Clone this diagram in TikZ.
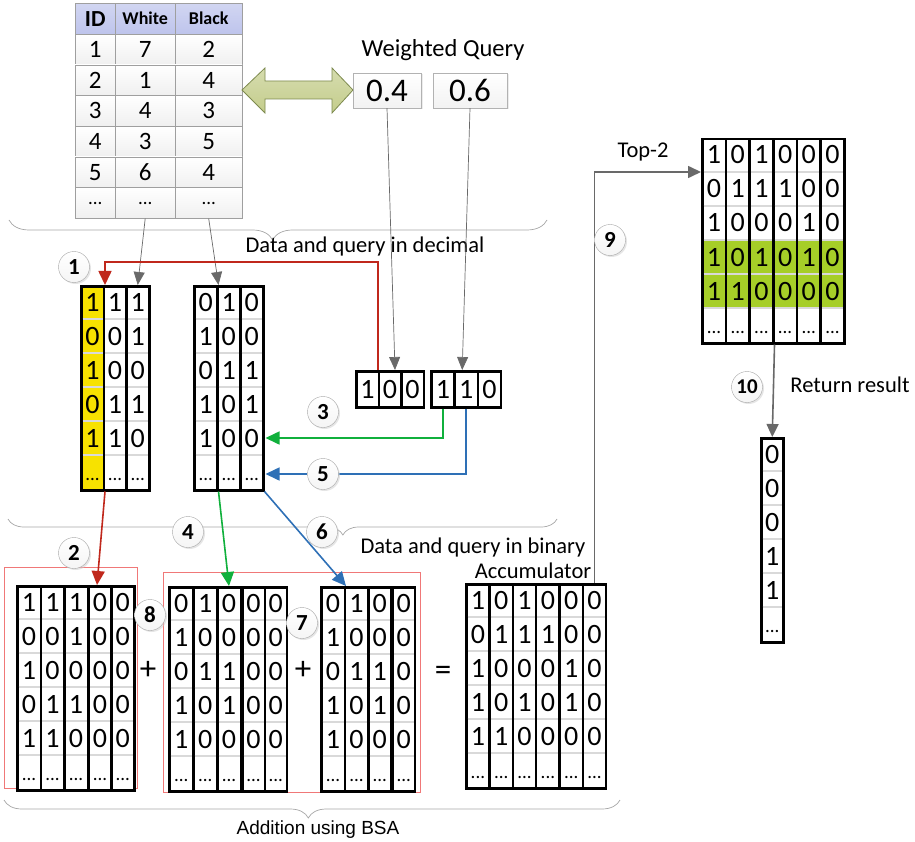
\documentclass[tikz,border=0pt]{standalone}
\usepackage{fontspec}
\setmainfont{Carlito}
\newfontfamily\arialfont{Liberation Sans}
\usetikzlibrary{arrows.meta,calc,shadows,decorations.pathreplacing}

\definecolor{redln}{RGB}{192,40,28}
\definecolor{greenln}{RGB}{16,176,60}
\definecolor{blueln}{RGB}{46,112,182}
\definecolor{grayln}{RGB}{105,105,105}
\definecolor{hlyellow}{RGB}{247,226,0}
\definecolor{hlgreen}{RGB}{166,206,40}
\definecolor{headblue}{RGB}{190,196,236}
\definecolor{olivefill}{RGB}{196,205,140}
\definecolor{oliveline}{RGB}{125,138,78}
\definecolor{sumred}{RGB}{240,120,120}

% one bit column: [fill] name, x, y (top left), width, five values
\newcommand{\bitcol}[6][fill=white]{%
  \node[bitbox,#1,minimum width=#5pt] (#2) at ({#3},{#4}) {};
  \edef\collist{#6}%
  \foreach \v [count=\r] in \collist {
    \draw[rowsep] ($(#2.north west)+(2.5,\r*34)$) -- ($(#2.north east)+(-2.5,\r*34)$);
    \node[bitdigit] (#2-\r) at ($(#2.north)+(0,\r*34-8)$) {\v};
  }
  \node[bitdots] (#2-6) at ($(#2.north)+(0,195)$) {...};
}

\begin{document}
\begin{tikzpicture}[x=1pt,y=-1pt,
  bitbox/.style={draw=black, line width=2.5pt, minimum height=204pt, inner sep=0pt, anchor=north west},
  qbox/.style={bitbox, fill=white, minimum height=36pt, font=\fontsize{28}{28}\selectfont},
  rowsep/.style={draw=gray!30, line width=2pt},
  bitdigit/.style={anchor=base, inner sep=0pt, font=\fontsize{28}{28}\selectfont},
  bitdots/.style={anchor=base, inner sep=0pt, font=\fontsize{19}{19}\selectfont},
  tcell/.style={draw=gray!75, top color=white, bottom color=gray!12, minimum height=30.7pt,
    inner sep=0pt, anchor=north west, font=\fontsize{25}{25}\selectfont},
  thead/.style={tcell, top color=headblue!70, bottom color=headblue, minimum height=31pt},
  wbox/.style={draw=gray!60, top color=white, bottom color=gray!10, minimum height=35pt,
    inner sep=0pt, font=\fontsize{33}{33}\selectfont,
    drop shadow={shadow xshift=1.5pt, shadow yshift=-1.5pt, fill=black!15}},
  stepnum/.style={circle, draw=gray!70, top color=white, bottom color=gray!8, minimum size=31pt,
    inner sep=0pt, font=\bfseries\fontsize{23}{23}\selectfont,
    drop shadow={shadow xshift=1.5pt, shadow yshift=-1.5pt, fill=black!20}},
  lbl/.style={inner sep=0pt, font=\fontsize{22.5}{22.5}\selectfont},
  thinarrow/.style={draw=grayln, line width=0.7pt, -{Triangle[length=13pt,width=11pt]}},
  grayarrow/.style={draw=grayln, line width=1.6pt, -{Triangle[length=13pt,width=12pt]}},
  redarrow/.style={draw=redln, line width=1.6pt, -{Triangle[length=14pt,width=13pt]}},
  greenarrow/.style={draw=greenln, line width=1.6pt, -{Triangle[length=14pt,width=13pt]}},
  bluearrow/.style={draw=blueln, line width=1.6pt, -{Triangle[length=14pt,width=13pt]}},
  brc/.style={draw=gray!70, line width=0.7pt, decorate},
  sumbox/.style={draw=sumred, line width=0.8pt}]

\useasboundingbox (0,0) rectangle (915,842);

% Table in decimal
\node[thead, minimum width=40pt] (t-0-1) at (75,3) {\bfseries\fontsize{23}{23}\selectfont ID};
\node[thead, minimum width=60pt] (t-0-2) at (115,3) {\bfseries\fontsize{18}{18}\selectfont White};
\node[thead, minimum width=67pt] (t-0-3) at (175,3) {\bfseries\fontsize{18}{18}\selectfont Black};
\foreach \r/\a/\b/\c in {1/1/7/2, 2/2/1/4, 3/3/4/3, 4/4/3/5, 5/5/6/4} {
  \node[tcell, minimum width=40pt] (t-\r-1) at (75,{34+(\r-1)*30.7}) {\a};
  \node[tcell, minimum width=60pt] (t-\r-2) at (115,{34+(\r-1)*30.7}) {\b};
  \node[tcell, minimum width=67pt] (t-\r-3) at (175,{34+(\r-1)*30.7}) {\c};
}
\node[tcell, minimum width=40pt, font=\fontsize{19}{19}\selectfont] (t-6-1) at (75,187.5) {...};
\node[tcell, minimum width=60pt, font=\fontsize{19}{19}\selectfont] (t-6-2) at (115,187.5) {...};
\node[tcell, minimum width=67pt, font=\fontsize{19}{19}\selectfont] (t-6-3) at (175,187.5) {...};

% Link between table and query
\draw[draw=oliveline, top color=olivefill!70, bottom color=olivefill, line width=0.8pt]
  (242,90) -- (265,68) -- (265,81) -- (332,81) -- (332,68) -- (353,90)
  -- (332,113) -- (332,99) -- (265,99) -- (265,113) -- cycle;

% Weighted query
\node[inner sep=0pt, font=\fontsize{24.5}{24.5}\selectfont] (wq) at (443,50) {Weighted Query};
\node[wbox, minimum width=68pt] (w1) at (387,90.5) {0.4};
\node[wbox, minimum width=74pt] (w2) at (470,90.5) {0.6};

% Data and query in binary
\bitcol[fill=hlyellow]{wa1}{80}{285}{22.5}{1,0,1,0,1}
\bitcol{wa2}{102.5}{285}{22.5}{1,0,0,1,1}
\bitcol{wa3}{125}{285}{23}{1,1,0,1,0}

\bitcol{bb1}{193}{285}{23}{0,1,0,1,1}
\bitcol{bb2}{216}{285}{23}{1,0,1,0,0}
\bitcol{bb3}{239}{285}{23}{0,0,1,1,0}

\node[qbox, minimum width=22.5pt] (qa1) at (355,370) {1};
\node[qbox, minimum width=22.5pt] (qa2) at (377.5,370) {0};
\node[qbox, minimum width=22.5pt] (qa3) at (400,370) {0};
\node[qbox, minimum width=23.3pt] (qb1) at (430,370) {1};
\node[qbox, minimum width=23.3pt] (qb2) at (453.3,370) {1};
\node[qbox, minimum width=23.3pt] (qb3) at (476.6,370) {0};

% Braces
\draw[brc, decoration={brace, amplitude=20pt, aspect=0.51}] (547,220) -- (9,220);
\node[lbl] (lbdec) at (365,247) {Data and query in decimal};
\draw[brc, decoration={brace, amplitude=16pt, aspect=0.39}] (557,519) -- (8,519);
\node[lbl] (lbbin) at (473,547) {Data and query in binary};
\draw[brc, decoration={brace, amplitude=18pt, aspect=0.506}] (620,800) -- (4,800);
\node[inner sep=0pt, font=\arialfont\fontsize{19}{19}\selectfont] (lbbsa) at (318,830) {Addition using BSA};

% Addition using BSA
\draw[sumbox] (4,567) rectangle (137,788);
\draw[sumbox] (163,572) rectangle (420,792);

\bitcol{g1c1}{16}{585}{23.5}{1,0,1,0,1}
\bitcol{g1c2}{39.5}{585}{23.5}{1,0,0,1,1}
\bitcol{g1c3}{63}{585}{23.5}{1,1,0,1,0}
\bitcol{g1c4}{87.5}{585}{22.5}{0,0,0,0,0}
\bitcol{g1c5}{110}{585}{23}{0,0,0,0,0}
\node[inner sep=0pt, font=\fontsize{33}{33}\selectfont] (plus1) at (148,670) {+};

\bitcol{g2c1}{168}{586}{24}{0,1,0,1,1}
\bitcol{g2c2}{192}{586}{24}{1,0,1,0,0}
\bitcol{g2c3}{216}{586}{23.5}{0,0,1,1,0}
\bitcol{g2c4}{241}{586}{22.5}{0,0,0,0,0}
\bitcol{g2c5}{263.5}{586}{22}{0,0,0,0,0}
\node[inner sep=0pt, font=\fontsize{33}{33}\selectfont] (plus2) at (303,670) {+};

\bitcol{g3c1}{320}{586}{23.5}{0,1,0,1,1}
\bitcol{g3c2}{343.5}{586}{23.5}{1,0,1,0,0}
\bitcol{g3c3}{367}{586}{23}{0,0,1,1,0}
\bitcol{g3c4}{391.5}{586}{22}{0,0,0,0,0}
\node[inner sep=0pt, font=\fontsize{33}{33}\selectfont] (eq) at (443,673) {=};

% Accumulator
\node[lbl] (lbacc) at (533,571) {Accumulator};
\foreach \k/\vals in {1/{1,0,1,1,1}, 2/{0,1,0,0,1}, 3/{1,1,0,1,0}, 4/{0,1,0,0,0}, 5/{0,0,1,1,0}, 6/{0,0,0,0,0}}
  \bitcol{acc\k}{465+(\k-1)*23.33}{583}{23.33}{\vals};

% Top-2
\fill[hlgreen] (701,240) rectangle (843,308);
\foreach \k/\vals in {1/{1,0,1,1,1}, 2/{0,1,0,0,1}, 3/{1,1,0,1,0}, 4/{0,1,0,0,0}, 5/{0,0,1,1,0}, 6/{0,0,0,0,0}}
  \bitcol[fill=none]{top\k}{701+(\k-1)*23.67}{138}{23.67}{\vals};
\node[lbl] (lbtop) at (643,152) {Top-2};

% Result
\bitcol{res}{760}{437}{22}{0,0,0,1,1}
\node[lbl] (lbret) at (850,385) {Return result};

% Connectors
\draw[thinarrow] (t-6-2.south) -- (wa3.north);
\draw[thinarrow] (t-6-3.south) -- (bb1.north east);
\draw[thinarrow] (w1.south) -- ($(qa2.north)+(5,0)$);
\draw[thinarrow] (w2.south) -- ($(qb2.north)+(-4,0)$);

\draw[redarrow] ($(qa1.north east)+(-2,0)$) -- ++(0,-108) -| (wa1.north east);
\draw[redarrow] (wa1.south east) -- ($(g1c4.north)+(-3,0)$);
\draw[greenarrow] (qb1.south) |- ($(bb3.north east)+(1,153)$);
\draw[greenarrow] (bb1.south east) -- (g2c3.north);
\draw[bluearrow] (qb2.south) |- ($(bb3.north east)+(1,189)$);
\draw[bluearrow] (bb3.south east) -- (g3c1.north east);

\draw[grayarrow] (acc6.north) |- ($(top1.north west)+(0,34)$);
\draw[grayarrow] (top3.south east) -- (res.north);

% Steps
\node[stepnum] (s1) at (74,267) {1};
\node[stepnum] (s2) at (74,553) {2};
\node[stepnum] (s3) at (323,412) {3};
\node[stepnum] (s4) at (188,532) {4};
\node[stepnum] (s5) at (323,474) {5};
\node[stepnum] (s6) at (322,532) {6};
\node[stepnum] (s7) at (302,623) {7};
\node[stepnum] (s8) at (150,615) {8};
\node[stepnum] (s9) at (610,240) {9};
\node[stepnum, font=\bfseries\fontsize{21}{21}\selectfont] (s10) at (747,387) {10};

\end{tikzpicture}
\end{document}
